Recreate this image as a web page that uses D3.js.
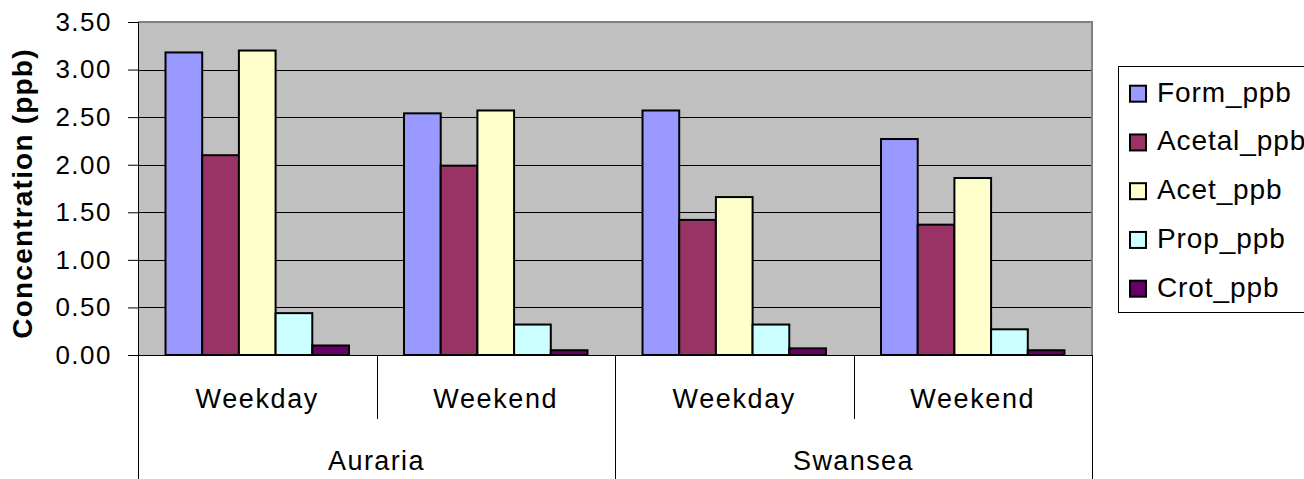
<!DOCTYPE html>
<html>
<head>
<meta charset="utf-8">
<script src="https://cdn.jsdelivr.net/npm/d3@7/dist/d3.min.js"></script>
<style>
  html, body { margin: 0; padding: 0; background: #fff; }
  svg { display: block; }
  text { font-family: "Liberation Sans", Arial, sans-serif; fill: #000; }
</style>
</head>
<body>
<svg id="chart" width="1304" height="479"></svg>
<script>
// Aldehyde concentrations by site and day type
const sites = ["Auraria", "Swansea"];
const dayTypes = ["Weekday", "Weekend"];
const seriesNames = ["Form_ppb", "Acetal_ppb", "Acet_ppb", "Prop_ppb", "Crot_ppb"];
const seriesColors = ["#9999FF", "#993366", "#FFFFCC", "#CCFFFF", "#660066"];

// one value per category, in order: Auraria/Weekday, Auraria/Weekend, Swansea/Weekday, Swansea/Weekend
const formPpb   = [3.18, 2.54, 2.57, 2.27];
const acetalPpb = [2.10, 1.99, 1.42, 1.37];
const acetPpb   = [3.20, 2.57, 1.66, 1.86];
const propPpb   = [0.44, 0.32, 0.32, 0.27];
const crotPpb   = [0.10, 0.05, 0.07, 0.05];

const yTicks = [0, 0.5, 1, 1.5, 2, 2.5, 3, 3.5];

const seriesValues = [formPpb, acetalPpb, acetPpb, propPpb, crotPpb];
const categories = [];
sites.forEach(s => dayTypes.forEach(d => categories.push({ site: s, day: d, key: s + "|" + d })));

const svg = d3.select("#chart");
const plot = { left: 138, right: 1092, top: 22, bottom: 355 };

const x0 = d3.scaleBand()
  .domain(categories.map(c => c.key))
  .range([plot.left, plot.right])
  .paddingInner(0).paddingOuter(0);

const x1 = d3.scaleBand()
  .domain(seriesNames)
  .range([0, x0.bandwidth()])
  .paddingInner(0).paddingOuter(0.75);

const y = d3.scaleLinear().domain([0, 3.5]).range([plot.bottom, plot.top]);

// plot background
svg.append("rect")
  .attr("x", plot.left).attr("y", plot.top)
  .attr("width", plot.right - plot.left).attr("height", plot.bottom - plot.top)
  .attr("fill", "#C0C0C0");

// gridlines
svg.append("g")
  .selectAll("line")
  .data(yTicks.filter(t => t > 0 && t < 3.5))
  .join("line")
  .attr("x1", plot.left).attr("x2", plot.right)
  .attr("y1", d => Math.round(y(d)) + 0.5).attr("y2", d => Math.round(y(d)) + 0.5)
  .attr("stroke", "#000").attr("stroke-width", 1);

// plot border (top and right)
svg.append("path")
  .attr("d", `M${plot.left},${plot.top} H${plot.right} V${plot.bottom}`)
  .attr("fill", "none").attr("stroke", "#808080").attr("stroke-width", 2);

// bars
const groups = svg.append("g")
  .selectAll("g")
  .data(categories)
  .join("g")
  .attr("transform", c => `translate(${x0(c.key)},0)`);

groups.selectAll("rect")
  .data((c, ci) => seriesNames.map((name, si) => ({ name, color: seriesColors[si], value: seriesValues[si][ci] })))
  .join("rect")
  .attr("x", d => x1(d.name))
  .attr("y", d => y(d.value))
  .attr("width", x1.bandwidth())
  .attr("height", d => y(0) - y(d.value))
  .attr("fill", d => d.color)
  .attr("stroke", "#000")
  .attr("stroke-width", 2);

// y axis
const yAxis = d3.axisLeft(y)
  .tickValues(yTicks)
  .tickFormat(d3.format(".2f"))
  .tickSize(10)
  .tickPadding(16);

const yg = svg.append("g")
  .attr("transform", `translate(${plot.left},0)`)
  .call(yAxis);
yg.select(".domain").remove();
yg.selectAll(".tick line").attr("stroke", "#000");
yg.selectAll(".tick text")
  .attr("font-family", "'Liberation Sans', Arial, sans-serif")
  .attr("font-size", 26)
  .attr("letter-spacing", "1.5px")
  .attr("fill", "#000");

// axis lines
svg.append("line")
  .attr("x1", plot.left + 0.5).attr("x2", plot.left + 0.5)
  .attr("y1", plot.top).attr("y2", 479)
  .attr("stroke", "#000").attr("stroke-width", 1);
svg.append("line")
  .attr("x1", plot.left).attr("x2", plot.right)
  .attr("y1", plot.bottom + 0.5).attr("y2", plot.bottom + 0.5)
  .attr("stroke", "#000").attr("stroke-width", 1);

// category dividers: short between day types, long between sites
const boundaries = [];
categories.forEach((c, i) => {
  if (i === 0) return;
  const long = categories[i - 1].site !== c.site;
  boundaries.push({ x: x0(c.key), long });
});
boundaries.push({ x: x0(categories[categories.length - 1].key) + x0.bandwidth(), long: true });

svg.append("g")
  .selectAll("line")
  .data(boundaries)
  .join("line")
  .attr("x1", d => Math.round(d.x) + 0.5).attr("x2", d => Math.round(d.x) + 0.5)
  .attr("y1", plot.bottom).attr("y2", d => d.long ? 479 : 419)
  .attr("stroke", "#000").attr("stroke-width", 1);

// day type labels
svg.append("g")
  .selectAll("text")
  .data(categories)
  .join("text")
  .attr("x", c => x0(c.key) + x0.bandwidth() / 2)
  .attr("y", 408)
  .attr("text-anchor", "middle")
  .attr("font-size", 27)
  .attr("letter-spacing", "1.6px")
  .text(c => c.day);

// site labels
svg.append("g")
  .selectAll("text")
  .data(sites)
  .join("text")
  .attr("x", s => {
    const keys = categories.filter(c => c.site === s).map(c => c.key);
    return (x0(keys[0]) + x0(keys[keys.length - 1]) + x0.bandwidth()) / 2;
  })
  .attr("y", 470)
  .attr("text-anchor", "middle")
  .attr("font-size", 27)
  .attr("letter-spacing", "1.4px")
  .text(s => s);

// y axis title
svg.append("text")
  .attr("transform", `translate(32,${(plot.top + plot.bottom) / 2 + 5}) rotate(-90)`)
  .attr("text-anchor", "middle")
  .attr("font-size", 28)
  .attr("font-weight", "bold")
  .attr("letter-spacing", "1.2px")
  .text("Concentration (ppb)");

// legend
const legend = svg.append("g");
legend.append("rect")
  .attr("x", 1118.5).attr("y", 66.5)
  .attr("width", 240).attr("height", 246)
  .attr("fill", "#fff").attr("stroke", "#000").attr("stroke-width", 1);

const items = legend.selectAll("g.item")
  .data(seriesNames)
  .join("g")
  .attr("class", "item")
  .attr("transform", (d, i) => `translate(0,${101.7 + i * 48.75})`);

items.append("rect")
  .attr("x", 1130).attr("y", -16)
  .attr("width", 16).attr("height", 16)
  .attr("fill", (d, i) => seriesColors[i])
  .attr("stroke", "#000").attr("stroke-width", 2);

items.append("text")
  .attr("x", 1157).attr("y", 0)
  .attr("font-size", 28)
  .attr("letter-spacing", "0.9px")
  .text(d => d);
</script>
</body>
</html>
